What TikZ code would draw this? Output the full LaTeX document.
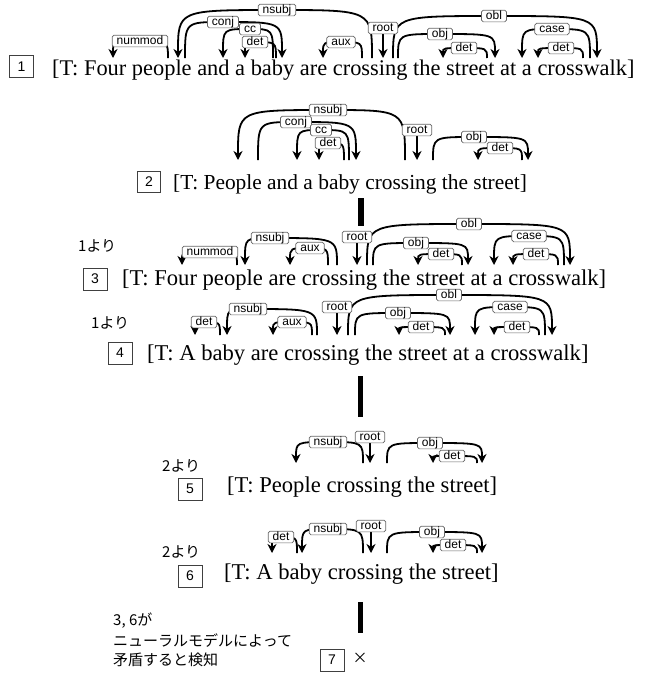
\documentclass[tikz,border=0pt]{standalone}
\usepackage{fontspec}
\setmainfont{Liberation Serif}
\setsansfont{Liberation Sans}
\newfontfamily\jpfont{Noto Sans CJK JP}
\usetikzlibrary{arrows.meta}
\pgfdeclarelayer{bg}
\pgfsetlayers{bg,main}
\tikzset{
  deparc/.style={line width=1.8pt, -{Stealth[length=9pt,width=9pt,inset=2.8pt]}},
  deplabel/.style={draw=black!60, fill=white, rounded corners=1.8pt, line width=0.7pt,
    inner xsep=4.5pt, inner ysep=0.5pt, text height=8.4pt, text depth=2.3pt,
    font=\sffamily\fontsize{12}{13}\selectfont},
  sent/.style={anchor=base west, inner sep=0pt, font=\fontsize{22.4}{26}\selectfont},
  sentb/.style={sent, font=\fontsize{22.6}{26}\selectfont},
  sents/.style={sent, font=\fontsize{21.4}{25}\selectfont},
  numbox/.style={draw=black!75, line width=0.8pt, minimum width=24pt, minimum height=22pt,
    inner sep=0pt, font=\sffamily\fontsize{14}{16}\selectfont},
  jptext/.style={anchor=west, inner sep=0pt, font=\jpfont\fontsize{15}{18}\selectfont},
  bar/.style={fill=black, draw=none},
}
\newcommand\deparcdraw[6]{%
  \coordinate (#1h) at (#2,\yb);
  \coordinate (#1d) at (#3,\yb);
  \coordinate (#1m) at (#4,#5);
  \begin{pgfonlayer}{bg}
  \draw[deparc] (#1h) .. controls (#1h |- #1m) .. (#1m) .. controls (#1d |- #1m) .. (#1d);
  \end{pgfonlayer}
  \node[deplabel] (#1) at (#1m) {#6};
}
\newcommand\rootdraw[4]{%
  \node[deplabel] (#1) at (#2,#3) {#4};
  \coordinate (#1d) at (#2,\yb);
  \begin{pgfonlayer}{bg}\draw[deparc] (#1.south) -- (#1d);\end{pgfonlayer}
}
\begin{document}
\begin{tikzpicture}[x=1pt,y=-1pt]
\useasboundingbox (0,0) rectangle (664,675);
% ---------- row 1
\def\yb{58}
\node[numbox] (b1) at (21.5,66.5) {1};
\node[sent] (s1) at (52,75) {[T: Four people and a baby are crossing the street at a crosswalk]};
\deparcdraw{r1a}{168}{113}{140}{41}{nummod}
\deparcdraw{r1b}{372}{178}{277}{10}{nsubj}
\deparcdraw{r1c}{185}{282}{223}{22}{conj}
\deparcdraw{r1d}{273}{223}{250}{29}{cc}
\deparcdraw{r1e}{276}{245}{255}{42}{det}
\deparcdraw{r1f}{362}{323}{341}{42}{aux}
\rootdraw{r1g}{383}{28}{root}
\deparcdraw{r1h}{393}{597}{494}{16}{obl}
\deparcdraw{r1i}{398}{495}{440}{34}{obj}
\deparcdraw{r1j}{487}{443}{464}{48}{det}
\deparcdraw{r1k}{590}{522}{552}{29}{case}
\deparcdraw{r1l}{583}{538}{561}{48}{det}
% ---------- row 2
\def\yb{160}
\node[numbox, minimum width=23pt, minimum height=21pt] (b2) at (149,182) {2};
\node[sents] (s2) at (173,189) {[T: People and a baby crossing the street]};
\deparcdraw{r2a}{405}{238}{328}{110}{nsubj}
\deparcdraw{r2b}{258}{356}{296}{122}{conj}
\deparcdraw{r2c}{349}{297}{321}{130}{cc}
\deparcdraw{r2d}{344}{319}{328}{143}{det}
\rootdraw{r2e}{417}{130}{root}
\deparcdraw{r2f}{433}{528}{474}{137}{obj}
\deparcdraw{r2g}{522}{478}{500}{148}{det}
\fill[bar] (358,198) rectangle (364,226);
% ---------- row 3
\def\yb{265}
\node[jptext] (f3) at (78,246) {1より};
\node[numbox] (b3) at (95,279) {3};
\node[sentb] (s3) at (122,285) {[T: Four people are crossing the street at a crosswalk]};
\deparcdraw{r3a}{237}{182}{210}{252}{nummod}
\deparcdraw{r3b}{337}{245}{270}{238}{nsubj}
\deparcdraw{r3c}{328}{290}{310}{248}{aux}
\rootdraw{r3d}{357}{237}{root}
\deparcdraw{r3e}{367}{570}{469}{224}{obl}
\deparcdraw{r3f}{373}{468}{416}{243}{obj}
\deparcdraw{r3g}{462}{418}{441}{254}{det}
\deparcdraw{r3h}{564}{494}{529}{236}{case}
\deparcdraw{r3i}{558}{513}{536}{254}{det}
% ---------- row 4
\def\yb{335}
\node[jptext] (f4) at (91,323) {1より};
\node[numbox] (b4) at (120,353) {4};
\node[sentb] (s4) at (147,360) {[T: A baby are crossing the street at a crosswalk]};
\deparcdraw{r4a}{220}{195}{204}{322}{det}
\deparcdraw{r4b}{317}{227}{248}{309}{nsubj}
\deparcdraw{r4c}{312}{273}{292}{322}{aux}
\rootdraw{r4d}{337}{307}{root}
\deparcdraw{r4e}{348}{552}{449}{295}{obl}
\deparcdraw{r4f}{355}{450}{398}{313}{obj}
\deparcdraw{r4g}{445}{399}{421}{327}{det}
\deparcdraw{r4h}{545}{475}{510}{307}{case}
\deparcdraw{r4i}{539}{494}{517}{327}{det}
\fill[bar] (358,376) rectangle (363,417);
% ---------- row 5
\def\yb{463}
\node[jptext] (f5) at (162,466) {2より};
\node[numbox] (b5) at (190,489) {5};
\node[sentb] (s5) at (227,492) {[T: People crossing the street]};
\deparcdraw{r5a}{363}{296}{328}{442}{nsubj}
\rootdraw{r5b}{370}{437}{root}
\deparcdraw{r5c}{387}{482}{430}{443}{obj}
\deparcdraw{r5d}{477}{433}{452}{456}{det}
% ---------- row 6
\def\yb{553}
\node[jptext] (f6) at (162,552) {2より};
\node[numbox] (b6) at (190,576) {6};
\node[sentb] (s6) at (224,579) {[T: A baby crossing the street]};
\deparcdraw{r6a}{297}{272}{281}{537}{det}
\deparcdraw{r6b}{363}{302}{328}{529}{nsubj}
\rootdraw{r6c}{371}{526}{root}
\deparcdraw{r6d}{387}{482}{432}{532}{obj}
\deparcdraw{r6e}{477}{433}{453}{545}{det}
\fill[bar] (358,602) rectangle (363,633);
% ---------- conclusion
\node[jptext] (j1) at (113,621) {3, 6が};
\node[jptext] (j2) at (113,641) {ニューラルモデルによって};
\node[jptext] (j3) at (113,660) {矛盾すると検知};
\node[numbox] (b7) at (332,660) {7};
\node[inner sep=0pt, font=\jpfont\fontsize{15}{18}\selectfont] (x7) at (360,658) {×};
\end{tikzpicture}
\end{document}
